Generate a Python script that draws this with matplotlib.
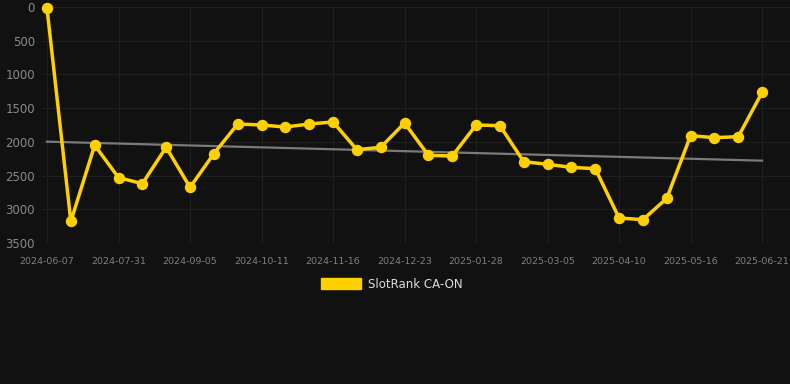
import numpy as np
import matplotlib
matplotlib.use("Agg")
import matplotlib.pyplot as plt
from matplotlib.patches import Patch

# Data
tick_labels = ["2024-06-07", "2024-07-31", "2024-09-05", "2024-10-11", "2024-11-16",
               "2024-12-23", "2025-01-28", "2025-03-05", "2025-04-10", "2025-05-16",
               "2025-06-21"]
ranks = [20, 3180, 2050, 2530, 2620, 2080, 2675, 2175, 1735, 1750, 1780, 1735, 1705,
         2116, 2081, 1720, 2200, 2210, 1750, 1760, 2294, 2333, 2378, 2398, 3129, 3154,
         2838, 1908, 1938, 1923, 1266]
trend_ends = [1997, 2279]
series_name = "SlotRank CA-ON"

bg = "#111111"
gold = "#FFD000"

fig = plt.figure(figsize=(7.9, 3.84), dpi=100, facecolor=bg)
ax = fig.add_axes([42/790, 141/384, 748/790, 236/384], facecolor=bg)

x = np.arange(len(ranks))
# trend line
ax.plot([x[0], x[-1]], trend_ends, color="#7a7a7a", lw=1.6, zorder=2)

ax.plot(x, ranks, color=gold, lw=2.5, marker="o", markersize=7.2,
        markerfacecolor=gold, markeredgecolor=gold, zorder=3, clip_on=False)

ax.set_ylim(3500, 0)
ax.set_yticks(np.arange(0, 3501, 500))
ax.set_xlim(-0.21, 31.17)
ax.set_xticks(x[::3])
ax.set_xticklabels(tick_labels)

ax.grid(True, color="#1f1f1f", lw=0.8)
for s in ax.spines.values():
    s.set_visible(False)
ax.tick_params(axis="y", length=0, pad=5, labelsize=8.5, labelcolor="#8a8a8a")
ax.tick_params(axis="x", length=0, pad=10, labelsize=6.8, labelcolor="#808080")
ax.set_axisbelow(True)

leg = fig.legend(handles=[Patch(facecolor=gold, edgecolor=gold, label=series_name)],
                 loc="center", bbox_to_anchor=(392/790, 1 - 284/384), frameon=False,
                 fontsize=8.5, labelcolor="#dddddd", handlelength=3.4, handleheight=1.1,
                 handletextpad=0.6)

fig.savefig("out.png", dpi=100, facecolor=bg)
